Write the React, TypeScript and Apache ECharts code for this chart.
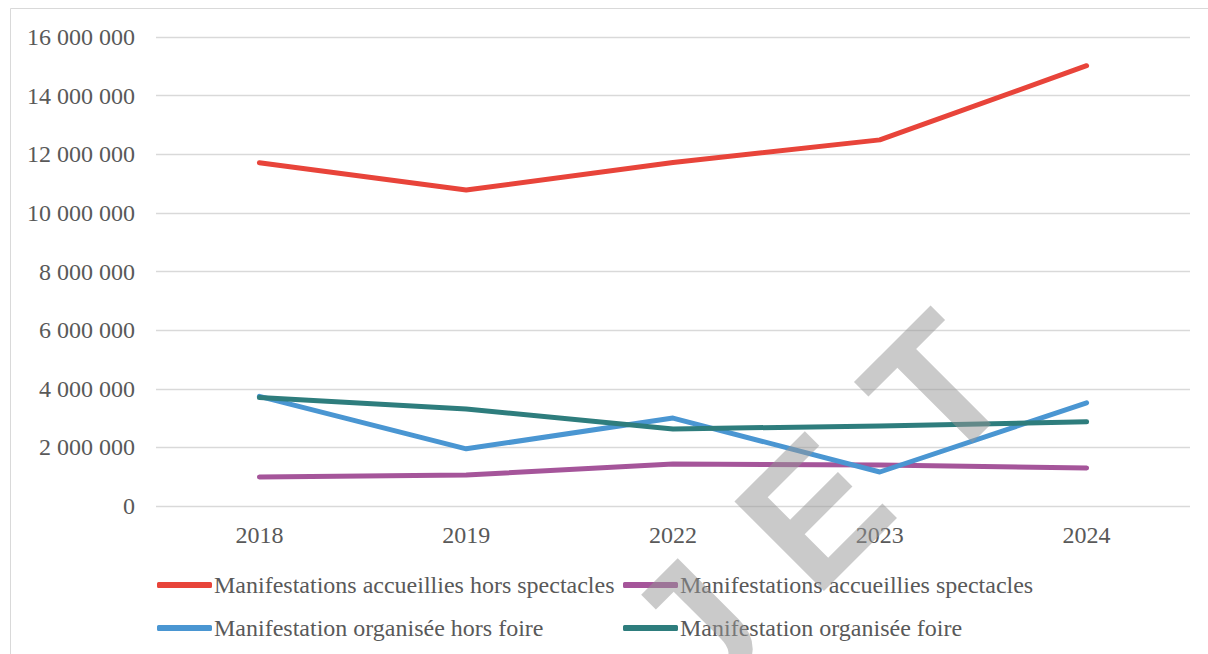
import React, { useEffect, useRef } from "react";
import * as echarts from "echarts";

const categories = ["2018", "2019", "2022", "2023", "2024"];
const seriesNames = [
  "Manifestations accueillies hors spectacles",
  "Manifestations accueillies spectacles",
  "Manifestation organisée hors foire",
  "Manifestation organisée foire",
];
const horsSpectacles = [11710000, 10780000, 11720000, 12490000, 15020000];
const spectacles = [990000, 1060000, 1430000, 1400000, 1300000];
const organiseeHorsFoire = [3740000, 1950000, 3000000, 1160000, 3520000];
const organiseeFoire = [3700000, 3310000, 2630000, 2730000, 2870000];
const seriesColors = ["#E8443A", "#A5559A", "#4A96D2", "#2E7D7D"];
const yMin = 0;
const yMax = 16000000;
const yInterval = 2000000;
const watermarkLetters = ["J", "E", "T"];
const watermarkOffsets = [-290, -122, 52];

const fmt = (v: number) => String(v).replace(/\B(?=(\d{3})+(?!\d))/g, " ");

export default function App() {
  const ref = useRef<HTMLDivElement>(null);
  useEffect(() => {
    if (!ref.current) return;
    const chart = echarts.init(ref.current, undefined, { renderer: "svg" });
    const serif = '"Liberation Serif", "Times New Roman", serif';
    const dataSets = [horsSpectacles, spectacles, organiseeHorsFoire, organiseeFoire];
    const legendPos = [
      { left: 157, top: 573 },
      { left: 623, top: 573 },
      { left: 157, top: 616 },
      { left: 623, top: 616 },
    ];
    chart.setOption({
      animation: false,
      backgroundColor: "#ffffff",
      grid: { left: 156, right: 18, top: 37, bottom: 148, containLabel: false },
      xAxis: {
        type: "category",
        data: categories,
        boundaryGap: true,
        axisLine: { show: false },
        axisTick: { show: false },
        axisLabel: { color: "#595959", fontFamily: serif, fontSize: 24, margin: 17 },
      },
      yAxis: {
        type: "value",
        min: yMin,
        max: yMax,
        interval: yInterval,
        axisLine: { show: false },
        axisTick: { show: false },
        splitLine: { lineStyle: { color: "#d9d9d9", width: 1.3 } },
        axisLabel: {
          color: "#595959",
          fontFamily: serif,
          fontSize: 24,
          margin: 21,
          formatter: (v: number) => fmt(v),
        },
      },
      legend: seriesNames.map((n, i) => ({
        data: [n],
        left: legendPos[i].left,
        top: legendPos[i].top,
        icon: "roundRect",
        itemWidth: 55,
        itemHeight: 6,
        padding: 0,
        textStyle: { color: "#595959", fontFamily: serif, fontSize: 24, padding: [0, 0, 0, -3] },
      })),
      series: seriesNames.map((n, i) => ({
        name: n,
        type: "line",
        data: dataSets[i],
        color: seriesColors[i],
        symbol: "none",
        showSymbol: false,
        lineStyle: { width: 5, color: seriesColors[i], cap: "round", join: "round" },
      })),
      graphic: [
        {
          type: "rect",
          silent: true,
          shape: { x: 10.5, y: 8.5, width: 1400, height: 900 },
          style: { fill: "none", stroke: "#d9d9d9", lineWidth: 1 },
        },
        {
          type: "group",
          x: 945,
          y: 470,
          rotation: Math.PI / 4,
          z: 100,
          silent: true,
          children: watermarkLetters.map((ch, i) => ({
            type: "text",
            x: watermarkOffsets[i],
            y: -64,
            z: 100,
            silent: true,
            style: {
              text: ch,
              fontFamily: '"Liberation Sans", Arial, sans-serif',
              fontWeight: "bold",
              fontSize: 184,
              fill: "rgba(150,150,150,0.5)",
              textAlign: "center",
              textVerticalAlign: "middle",
            },
          })),
        },
      ],
    });
    return () => chart.dispose();
  }, []);
  return (
    <div
      ref={ref}
      style={{ position: "fixed", left: 0, top: 0, width: 1208, height: 654, background: "#fff" }}
    />
  );
}
